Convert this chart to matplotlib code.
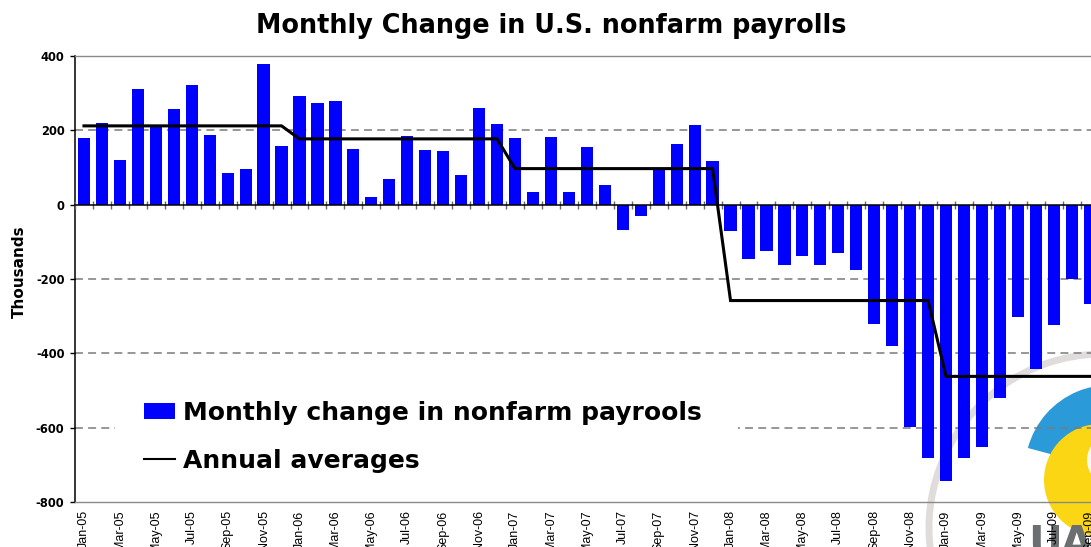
import numpy as np
import matplotlib
matplotlib.use("Agg")
import matplotlib.pyplot as plt
from matplotlib.patches import Patch, Rectangle, Arc, Wedge, Circle
from matplotlib.lines import Line2D

# ---------------- data ----------------
monthly_change = [
    180, 220, 121, 311, 212, 258, 322, 188, 86, 97, 379, 158,      # 2005
    293, 274, 279, 150, 21, 70, 185, 148, 145, 81, 260, 217,       # 2006
    180, 35, 183, 35, 156, 54, -67, -30, 99, 164, 215, 118,        # 2007
    -72, -145, -124, -161, -137, -161, -129, -177, -322, -381, -599, -682,  # 2008
    -744, -682, -652, -521, -303, -443, -325, -201, -266,          # 2009 (Jan-Sep)
]
annual_years = ["2005", "2006", "2007", "2008", "2009"]
annual_average = [212, 177, 97, -258, -462]
months_per_year = [12, 12, 12, 12, 9]
tick_labels = [
    "Jan-05", "Mar-05", "May-05", "Jul-05", "Sep-05", "Nov-05",
    "Jan-06", "Mar-06", "May-06", "Jul-06", "Sep-06", "Nov-06",
    "Jan-07", "Mar-07", "May-07", "Jul-07", "Sep-07", "Nov-07",
    "Jan-08", "Mar-08", "May-08", "Jul-08", "Sep-08", "Nov-08",
    "Jan-09", "Mar-09", "May-09", "Jul-09", "Sep-09",
]
y_ticks = [400, 200, 0, -200, -400, -600, -800]

title = "Monthly Change in U.S. nonfarm payrolls"
bar_label = "Monthly change in nonfarm payrools"
line_label = "Annual averages"
y_label = "Thousands"

# ---------------- figure ----------------
W, H = 1091, 547
fig = plt.figure(figsize=(W / 100, H / 100), dpi=100)
fig.patch.set_facecolor("white")

# background logo layer (pixel coordinates)
bg = fig.add_axes([0, 0, 1, 1], zorder=-1)
bg.set_xlim(0, W)
bg.set_ylim(H, 0)
bg.axis("off")
bg.add_patch(Arc((1103, 528), 348, 348, theta1=150, theta2=285,
                 color="#e1dcdc", lw=5.0))
bg.add_patch(Wedge((1110, 470), 85, 195, 300, color="#2b9ad9", lw=0))
bg.add_patch(Circle((1100, 480), 56, color="#fbd615", lw=0))
bg.add_patch(Circle((1113, 460), 26, color="#f4f8ee", lw=0))
bg.text(1028, 556, "UA", fontsize=30, fontweight="bold", color="#6b6f6f",
        family="DejaVu Sans", ha="left", va="baseline")

# main axes: left 75px, right ~1099px, top 56px, bottom 502px
left_px, right_px, top_px, bot_px = 75, 1098.7, 56, 502
ax = fig.add_axes([left_px / W, (H - bot_px) / H,
                   (right_px - left_px) / W, (bot_px - top_px) / H])
ax.set_facecolor("none")

n = len(monthly_change)
x = np.arange(n)
ax.bar(x, monthly_change, width=0.68, color="#0000ff", zorder=2)

annual_monthly = np.repeat(annual_average, months_per_year)
ax.plot(x, annual_monthly, color="black", lw=2.2, zorder=4,
        solid_joinstyle="miter")

ax.set_xlim(-0.5, n - 0.5)
ax.set_ylim(-800, 400)

# spines
for s in ["top", "bottom"]:
    ax.spines[s].set_color("#8a8a8a")
    ax.spines[s].set_linewidth(1.0)
ax.spines["right"].set_visible(False)
ax.spines["left"].set_color("black")
ax.spines["left"].set_linewidth(1.1)

# y ticks
ax.set_yticks(y_ticks)
ax.set_yticklabels([str(v) for v in y_ticks], fontsize=8.3,
                   fontweight="bold", family="DejaVu Sans")
ax.tick_params(axis="y", length=3.6, width=1, color="black", pad=4)

# grid (only at the inner values; top/bottom are solid spines)
ax.set_axisbelow(True)
ax.yaxis.grid(True, linestyle=(0, (5.2, 3.4)), color="#7a7a7a", lw=1.1)
for val, gl in zip(y_ticks, ax.yaxis.get_gridlines()):
    if val in (400, 0, -800):
        gl.set_visible(False)
ax.xaxis.grid(False)

# x tick labels every other month
ax.set_xticks(x[::2])
ax.set_xticklabels(tick_labels, rotation=90, fontsize=9,
                   family="Liberation Sans", va="top", ha="center")
ax.tick_params(axis="x", length=0, pad=6)

# zero line with category ticks crossing it
ax2 = ax.twiny()
ax2.set_xlim(ax.get_xlim())
ax2.patch.set_visible(False)
for s in ["top", "left", "right"]:
    ax2.spines[s].set_visible(False)
ax2.spines["bottom"].set_visible(True)
ax2.spines["bottom"].set_position(("data", 0))
ax2.spines["bottom"].set_color("black")
ax2.spines["bottom"].set_linewidth(1.1)
ax2.xaxis.set_ticks_position("bottom")
ax2.set_xticks(np.arange(-0.5, n, 1.0))
ax2.tick_params(axis="x", direction="inout", length=6, width=1,
                color="#6a6a6a", labelbottom=False, labeltop=False)

# white area behind the legend (hides the gridline there)
ax.add_patch(Rectangle((40 / (right_px - left_px), 12 / (bot_px - top_px)),
                       623 / (right_px - left_px), 108 / (bot_px - top_px),
                       transform=ax.transAxes, facecolor="white",
                       edgecolor="none", zorder=1))

handles = [Patch(facecolor="#0000ff", edgecolor="none"),
           Line2D([0], [0], color="black", lw=1.5)]
leg = ax.legend(handles, [bar_label, line_label], loc="upper left",
                bbox_to_anchor=((144 - left_px) / (right_px - left_px),
                                (bot_px - 401) / (bot_px - top_px)),
                frameon=False, borderpad=0, borderaxespad=0,
                prop={"family": "DejaVu Sans", "weight": "bold", "size": 18},
                handlelength=1.24, handletextpad=0.32, handleheight=0.64,
                labelspacing=0.95)
leg.set_zorder(6)

# title and axis label
fig.text(551 / W, 1 - 33 / H, title, ha="center", va="baseline",
         fontsize=18.4, fontweight="bold", family="DejaVu Sans")
fig.text(19 / W, 1 - 272 / H, y_label, rotation=90, ha="center", va="center",
         fontsize=11, fontweight="bold", family="DejaVu Sans")

fig.savefig("out.png", dpi=100, facecolor="white")
